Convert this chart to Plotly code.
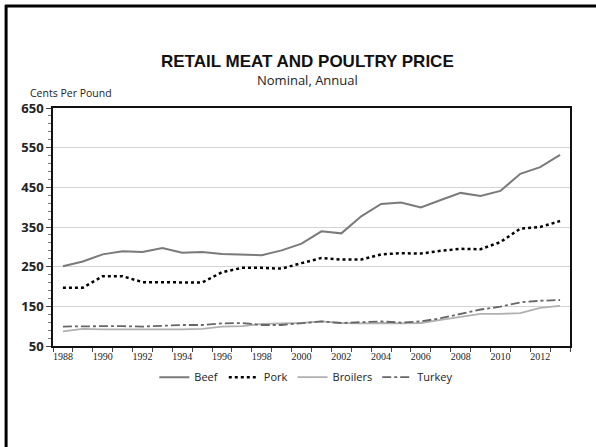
import plotly.graph_objects as go

years = list(range(1988, 2014))
beef = [251, 263, 281, 289, 287, 297, 285, 287, 282, 281, 279, 291, 308,
        339, 334, 377, 408, 412, 399, 418, 436, 428, 441, 484, 501, 532]
pork = [197, 197, 226, 226, 211, 211, 211, 210, 236, 247, 247, 245, 259,
        272, 268, 268, 281, 284, 283, 290, 295, 294, 312, 346, 350, 365]
broilers = [87, 93, 92, 92, 91, 92, 92, 93, 99, 100, 106, 107, 108,
            112, 108, 107, 108, 107, 108, 116, 124, 131, 131, 133, 146, 151]
turkey = [99, 100, 100, 100, 99, 101, 103, 103, 107, 108, 103, 103, 107,
          112, 108, 110, 112, 109, 112, 120, 131, 142, 149, 160, 164, 166]
tick_years = list(range(1988, 2013, 2))
y_ticks = [50, 150, 250, 350, 450, 550, 650]

fig = go.Figure()
fig.add_trace(go.Scatter(x=years, y=beef, name="Beef", mode="lines",
                         line=dict(color="#7a7a7a", width=2)))
fig.add_trace(go.Scatter(x=years, y=pork, name="Pork", mode="lines",
                         line=dict(color="#000000", width=2.5, dash="dot")))
fig.add_trace(go.Scatter(x=years, y=broilers, name="Broilers", mode="lines",
                         line=dict(color="#b0b0b0", width=1.8)))
fig.add_trace(go.Scatter(x=years, y=turkey, name="Turkey", mode="lines",
                         line=dict(color="#666666", width=1.8, dash="dashdot")))

fig.update_layout(
    width=596, height=447,
    margin=dict(l=53, r=26, t=108, b=101),
    paper_bgcolor="white", plot_bgcolor="white",
    showlegend=True,
    legend=dict(orientation="h", x=0.49, xanchor="center", y=-0.07, yanchor="top",
                font=dict(family="Open Sans", size=11, color="#222"),
                tracegroupgap=0),
    title=dict(text="RETAIL MEAT AND POULTRY PRICE", x=0.492, xref="paper", xanchor="center",
               y=1 - 61 / 447, yref="container", yanchor="middle",
               font=dict(family="Liberation Sans", size=17, color="#111", weight="bold")),
    annotations=[
        dict(text="Nominal, Annual", xref="paper", yref="paper", x=0.492, y=1 + (108 - 80) / 238,
             xanchor="center", yanchor="middle", showarrow=False,
             font=dict(family="Open Sans", size=13, color="#222")),
        dict(text="Cents Per Pound", xref="paper", yref="paper", x=(28 - 53) / 518, y=1 + (108 - 93) / 238,
             xanchor="left", yanchor="middle", showarrow=False,
             font=dict(family="Open Sans", size=10.5, color="#222")),
    ],
    shapes=[
        dict(type="line", xref="paper", yref="paper", x0=(5 - 53) / 518, x1=(600 - 53) / 518,
             y0=1 + (108 - 6) / 238, y1=1 + (108 - 6) / 238, line=dict(color="black", width=3)),
        dict(type="line", xref="paper", yref="paper", x0=(6 - 53) / 518, x1=(6 - 53) / 518,
             y0=1 + (108 - 5) / 238, y1=-(460 - 346) / 238, line=dict(color="black", width=3)),
    ],
)

fig.update_xaxes(
    range=[1987.5, 2013.5], tickvals=tick_years, ticktext=[str(y) for y in tick_years],
    ticks="", showgrid=False, zeroline=False,
    showline=True, linecolor="#111", linewidth=1.5, mirror=True,
    tickfont=dict(family="Liberation Serif", size=10, color="#222"),
    minor=dict(tickvals=[1987.5 + i for i in range(27)], ticks="outside", ticklen=4,
               tickcolor="#444", showgrid=False),
)
fig.update_yaxes(
    range=[50, 650], tickvals=y_ticks, ticks="outside", ticklen=5, tickcolor="#444",
    showgrid=True, gridcolor="#d4d4d4", gridwidth=1, zeroline=False,
    showline=True, linecolor="#111", linewidth=1.5, mirror=True,
    tickfont=dict(family="Open Sans", size=13, color="#222", weight="bold"),
    minor=dict(dtick=20, tick0=50, ticks="outside", ticklen=3, tickcolor="#777", showgrid=False),
)

fig.write_html("out.html", config={"displayModeBar": False},
               post_script="document.body.style.margin='0';")
